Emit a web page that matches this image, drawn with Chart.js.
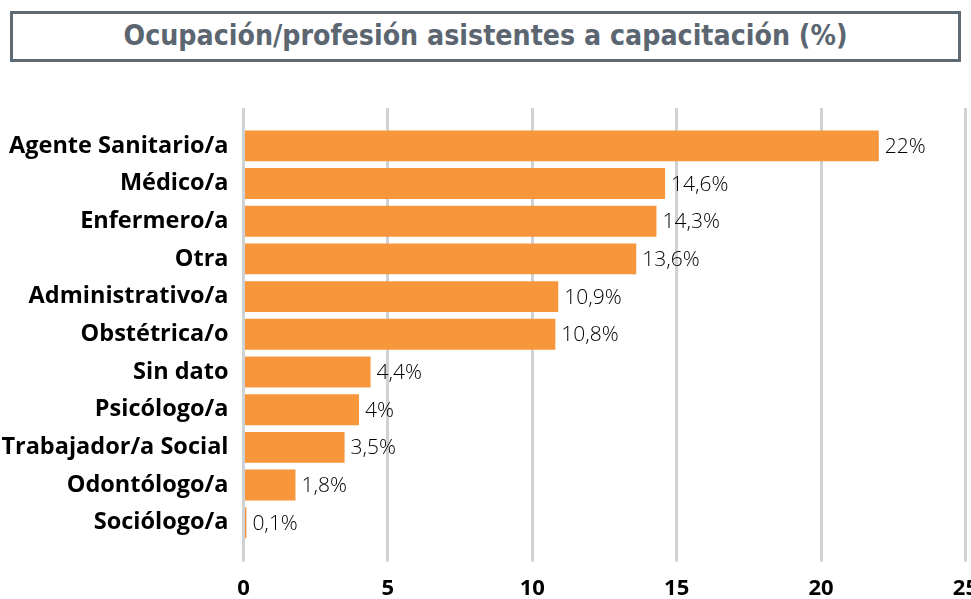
<!DOCTYPE html>
<html>
<head>
<meta charset="utf-8">
<script src="https://cdn.jsdelivr.net/npm/chart.js@4/dist/chart.umd.min.js"></script>
<style>
  html, body { margin: 0; padding: 0; background: #fff; overflow: hidden; width: 971px; height: 599px; }
  #wrap { position: relative; width: 971px; height: 599px; overflow: hidden; }
  #c { position: absolute; left: 0; top: 0; }
  #titleBox {
    position: absolute; left: 10px; top: 11px; width: 951px; height: 51px;
    box-sizing: border-box; border: 3px solid #5e6a74; background: #fff;
    display: flex; align-items: center; justify-content: center;
  }
  #titleText {
    font-family: "Liberation Sans Narrow", "DejaVu Sans Condensed", "Roboto", sans-serif;
    font-weight: bold; font-size: 29px; color: #5b6671; white-space: nowrap;
    display: inline-block; transform-origin: center center; margin-top: -3px;
  }
</style>
</head>
<body>
<div id="wrap">
  <canvas id="c" width="992" height="616"></canvas>
  <div id="titleBox"><span id="titleText">Ocupación/profesión asistentes a capacitación (%)</span></div>
</div>
<script>
// Occupations of training attendees and their share (%)
const categories = [
  'Agente Sanitario/a', 'Médico/a', 'Enfermero/a', 'Otra', 'Administrativo/a',
  'Obstétrica/o', 'Sin dato', 'Psicólogo/a', 'Trabajador/a Social', 'Odontólogo/a', 'Sociólogo/a'
];
const shares = [22, 14.6, 14.3, 13.6, 10.9, 10.8, 4.4, 4, 3.5, 1.8, 0.1];
const axisTicks = [0, 5, 10, 15, 20, 25];

// Fit the heading to its line width
const titleEl = document.getElementById('titleText');
const titleW = titleEl.getBoundingClientRect().width;
titleEl.style.transform = 'scaleX(' + (724 / titleW) + ')';

const BAR = '#F7963A';
const GRID = '#cfd2d5';
const fmt = v => String(v).replace('.', ',') + '%';

// Value labels written just past the end of each bar
const valueLabels = {
  id: 'valueLabels',
  afterDatasetsDraw(chart) {
    const ctx = chart.ctx;
    const meta = chart.getDatasetMeta(0);
    ctx.save();
    ctx.font = '300 21px "Open Sans", sans-serif';
    ctx.fillStyle = '#000';
    ctx.textAlign = 'left';
    ctx.textBaseline = 'middle';
    meta.data.forEach((bar, i) => {
      ctx.fillText(fmt(shares[i]), bar.x + 6, bar.y + 1);
    });
    ctx.restore();
  }
};

const setTicks = scale => { scale.ticks = axisTicks.map(v => ({ value: v })); };

new Chart(document.getElementById('c'), {
  type: 'bar',
  data: {
    labels: categories,
    datasets: [{
      data: shares,
      backgroundColor: BAR,
      borderWidth: 0,
      barPercentage: 0.82,
      categoryPercentage: 1
    }]
  },
  options: {
    indexAxis: 'y',
    responsive: false,
    animation: false,
    devicePixelRatio: 1,
    layout: { padding: { top: 108, right: 20, bottom: 0, left: 0 } },
    plugins: {
      legend: { display: false },
      tooltip: { enabled: false },
      title: { display: false }
    },
    scales: {
      x: {
        type: 'linear',
        position: 'bottom',
        min: 0,
        max: 25,
        afterBuildTicks: setTicks,
        border: { display: false },
        grid: { color: GRID, lineWidth: 3, drawTicks: true, tickLength: 20, tickColor: GRID, tickWidth: 3 },
        ticks: { padding: 14, color: '#000', font: { family: 'Open Sans', weight: 'bold', size: 22 } }
      },
      xTop: {
        type: 'linear',
        axis: 'x',
        position: 'top',
        min: 0,
        max: 25,
        afterBuildTicks: setTicks,
        border: { display: false },
        grid: { color: GRID, lineWidth: 3, drawOnChartArea: false, drawTicks: true, tickLength: 19, tickColor: GRID, tickWidth: 3 },
        ticks: { display: false }
      },
      y: {
        afterFit: scale => { scale.width = 243.5; },
        border: { display: false },
        grid: { display: false, drawTicks: false },
        ticks: { padding: 15, color: '#000', font: { family: 'Open Sans', weight: 'bold', size: 23.5 } }
      }
    }
  },
  plugins: [valueLabels]
});
</script>
</body>
</html>
